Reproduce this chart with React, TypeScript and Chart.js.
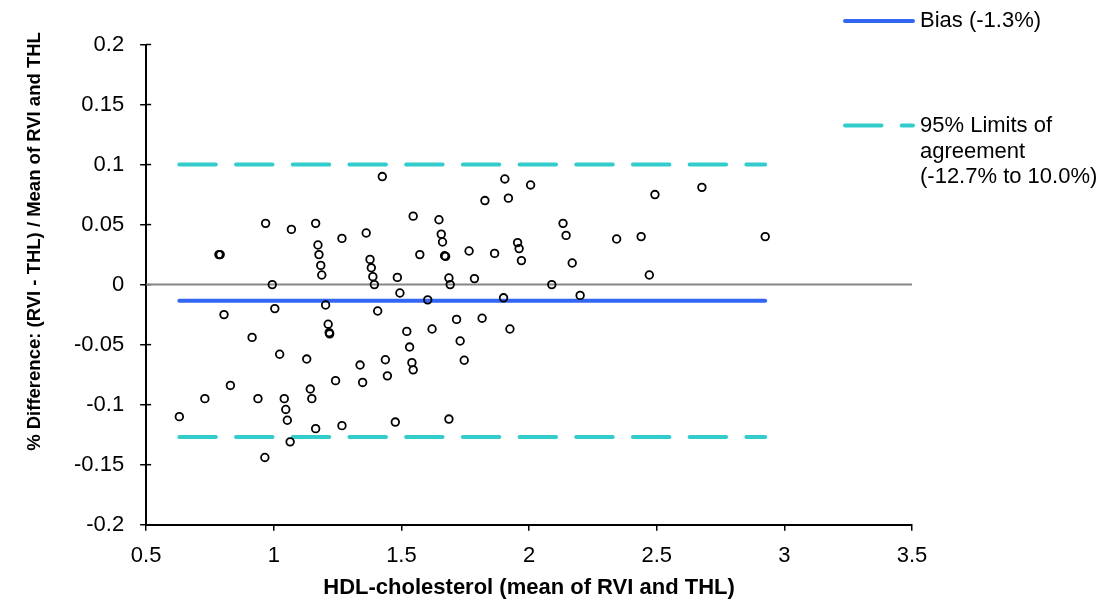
import React, { useEffect, useRef } from 'react';
import { Chart, registerables } from 'chart.js';

Chart.register(...registerables);

// Mean of RVI and THL (x) and % difference (y)
const meanValues = [
  0.63, 0.73, 0.785, 0.79, 0.805, 0.83, 0.915, 0.938, 0.965, 0.968,
  0.994, 1.004, 1.023, 1.041, 1.047, 1.053, 1.064, 1.069, 1.129, 1.143,
  1.149, 1.164, 1.164, 1.173, 1.177, 1.184, 1.188, 1.203, 1.213, 1.217,
  1.219, 1.242, 1.267, 1.267, 1.338, 1.348, 1.362, 1.377, 1.382, 1.388,
  1.394, 1.407, 1.425, 1.437, 1.445, 1.476, 1.484, 1.494, 1.521, 1.532,
  1.541, 1.546, 1.546, 1.572, 1.603, 1.62, 1.647, 1.656, 1.661, 1.669,
  1.673, 1.686, 1.686, 1.691, 1.716, 1.73, 1.746, 1.765, 1.786, 1.816,
  1.827, 1.865, 1.9, 1.905, 1.919, 1.925, 1.955, 1.961, 1.97, 2.006,
  2.089, 2.133, 2.145, 2.169, 2.2, 2.343, 2.439, 2.471, 2.493, 2.677,
  2.925,
];
const pctDiff = [
  -0.11, -0.095, 0.025, 0.025, -0.025, -0.084, -0.044, -0.095, -0.144, 0.051,
  0.0, -0.02, -0.058, -0.095, -0.104, -0.113, -0.131, 0.046, -0.062, -0.087,
  -0.095, 0.051, -0.12, 0.033, 0.025, 0.016, 0.008, -0.017, -0.033, -0.04,
  -0.041, -0.08, 0.0385, -0.1175, -0.067, -0.0815, 0.043, 0.021, 0.014, 0.0066,
  0.0, -0.022, 0.09, -0.0626, -0.076, -0.1145, 0.006, -0.007, -0.039, -0.052,
  -0.065, -0.071, 0.057, 0.025, -0.0127, -0.037, 0.054, 0.042, 0.0355, 0.024,
  0.0235, 0.0055, -0.112, 0.0, -0.029, -0.047, -0.063, 0.028, 0.005, -0.028,
  0.07, 0.026, -0.011, 0.088, 0.072, -0.037, 0.035, 0.03, 0.02, 0.083,
  0.0, 0.051, 0.041, 0.018, -0.009, 0.038, 0.04, 0.008, 0.075, 0.081,
  0.04,
];

const biasValue = -0.0135;
const upperLoA = 0.1;
const lowerLoA = -0.127;
const zeroValue = 0;

const xTicks = [0.5, 1, 1.5, 2, 2.5, 3, 3.5];
const xTickLabels = ['0.5', '1', '1.5', '2', '2.5', '3', '3.5'];
const yTicks = [-0.2, -0.15, -0.1, -0.05, 0, 0.05, 0.1, 0.15, 0.2];
const yTickLabels = ['-0.2', '-0.15', '-0.1', '-0.05', '0', '0.05', '0.1', '0.15', '0.2'];

const xTitle = 'HDL-cholesterol (mean of RVI and THL)';
const yTitle = '% Difference: (RVI - THL) / Mean of RVI and THL';
const legendBias = 'Bias (-1.3%)';
const legendLoA = ['95% Limits of', 'agreement', '(-12.7% to 10.0%)'];

const FONT = "'Liberation Sans', Arial, sans-serif";
const BLUE = '#3366F5';
const TEAL = '#33CCCC';
const DASH = [36.5, 20.2];

export default function App() {
  const ref = useRef<HTMLCanvasElement | null>(null);

  useEffect(() => {
    if (!ref.current) return;
    const xMin = Math.min(...meanValues);
    const xMax = Math.max(...meanValues);
    const points = meanValues.map((x, i) => ({ x, y: pctDiff[i] }));
    const hline = (v: number, a: number, b: number) => [
      { x: a, y: v },
      { x: b, y: v },
    ];

    const overlay = {
      id: 'overlay',
      beforeDatasetsDraw(chart: any) {
        const ctx = chart.ctx;
        const ys = chart.scales.y;
        const left = chart.chartArea.left;
        ctx.save();
        ctx.strokeStyle = '#000';
        ctx.lineWidth = 1.5;
        ys.ticks.forEach((t: any) => {
          const py = ys.getPixelForValue(t.value);
          ctx.beginPath();
          ctx.moveTo(left, py);
          ctx.lineTo(left + 5, py);
          ctx.stroke();
        });
        ctx.restore();
      },
      afterDraw(chart: any) {
        const ctx = chart.ctx;
        ctx.save();
        // y-axis title
        ctx.save();
        ctx.translate(40, 241.5);
        ctx.rotate(-Math.PI / 2);
        ctx.font = `bold 18.5px ${FONT}`;
        ctx.fillStyle = '#000';
        ctx.textAlign = 'center';
        ctx.textBaseline = 'alphabetic';
        ctx.fillText(yTitle, 0, 0);
        ctx.restore();

        // legend
        ctx.lineCap = 'round';
        ctx.lineWidth = 4;
        ctx.strokeStyle = BLUE;
        ctx.beginPath();
        ctx.moveTo(845, 21);
        ctx.lineTo(913, 21);
        ctx.stroke();

        ctx.strokeStyle = TEAL;
        ctx.setLineDash(DASH);
        ctx.beginPath();
        ctx.moveTo(845, 125.5);
        ctx.lineTo(913, 125.5);
        ctx.stroke();
        ctx.setLineDash([]);

        ctx.font = `22px ${FONT}`;
        ctx.fillStyle = '#000';
        ctx.textAlign = 'left';
        ctx.textBaseline = 'middle';
        ctx.fillText(legendBias, 920, 21);
        legendLoA.forEach((s, i) => ctx.fillText(s, 920, 126 + i * 25.7));
        ctx.restore();
      },
    };

    const chart = new Chart(ref.current, {
      type: 'scatter',
      data: {
        datasets: [
          {
            label: 'Data',
            data: points,
            pointStyle: 'circle',
            pointRadius: 3.8,
            pointHoverRadius: 3.8,
            pointBorderWidth: 1.8,
            borderColor: '#000',
            backgroundColor: 'rgba(0,0,0,0)',
            order: 0,
          },
          {
            label: 'Zero',
            data: hline(zeroValue, xTicks[0], xTicks[xTicks.length - 1]),
            showLine: true,
            pointRadius: 0,
            borderColor: '#868686',
            borderWidth: 2,
            order: 3,
          },
          {
            label: legendBias,
            data: hline(biasValue, xMin, xMax),
            showLine: true,
            pointRadius: 0,
            borderColor: BLUE,
            borderWidth: 4,
            borderCapStyle: 'round',
            order: 2,
          },
          {
            label: 'Upper LoA',
            data: hline(upperLoA, xMin, xMax),
            showLine: true,
            pointRadius: 0,
            borderColor: TEAL,
            borderWidth: 4,
            borderDash: DASH,
            borderCapStyle: 'round',
            order: 1,
          },
          {
            label: 'Lower LoA',
            data: hline(lowerLoA, xMin, xMax),
            showLine: true,
            pointRadius: 0,
            borderColor: TEAL,
            borderWidth: 4,
            borderDash: DASH,
            borderCapStyle: 'round',
            order: 1,
          },
        ],
      },
      options: {
        animation: false,
        responsive: false,
        events: [],
        layout: { padding: { left: 58, right: 189, top: 44.5, bottom: 0 } },
        plugins: {
          legend: { display: false },
          tooltip: { enabled: false },
        },
        scales: {
          x: {
            type: 'linear',
            min: 0.5,
            max: 3.5,
            afterBuildTicks: (s: any) => {
              s.ticks = xTicks.map((v) => ({ value: v }));
            },
            border: { display: true, color: '#000', width: 2 },
            grid: {
              drawOnChartArea: false,
              drawTicks: true,
              tickLength: 6,
              color: '#000',
              lineWidth: 1.5,
            },
            ticks: {
              autoSkip: false,
              maxRotation: 0,
              padding: 12,
              color: '#000',
              font: { family: FONT, size: 22 },
              callback: (v: any) => {
                const i = xTicks.findIndex((t) => Math.abs(t - Number(v)) < 1e-9);
                return i >= 0 ? xTickLabels[i] : '';
              },
            },
            title: {
              display: true,
              text: xTitle,
              color: '#000',
              font: { family: FONT, size: 22, weight: 'bold' },
              padding: { top: -6.5, bottom: 1 },
            },
          },
          y: {
            type: 'linear',
            min: -0.2,
            max: 0.2,
            afterBuildTicks: (s: any) => {
              s.ticks = yTicks.map((v) => ({ value: v }));
            },
            border: { display: true, color: '#000', width: 2 },
            grid: {
              drawOnChartArea: false,
              drawTicks: true,
              tickLength: 6,
              color: '#000',
              lineWidth: 1.5,
            },
            ticks: {
              autoSkip: false,
              padding: 16,
              color: '#000',
              font: { family: FONT, size: 22 },
              callback: (v: any) => {
                const i = yTicks.findIndex((t) => Math.abs(t - Number(v)) < 1e-9);
                return i >= 0 ? yTickLabels[i] : '';
              },
            },
          },
        },
      },
      plugins: [overlay],
    } as any);

    return () => chart.destroy();
  }, []);

  return (
    <div style={{ position: 'fixed', left: 0, top: 0, width: 1101, height: 602, background: '#fff' }}>
      <canvas ref={ref} width={1101} height={602} style={{ display: 'block', width: 1101, height: 602 }} />
    </div>
  );
}
